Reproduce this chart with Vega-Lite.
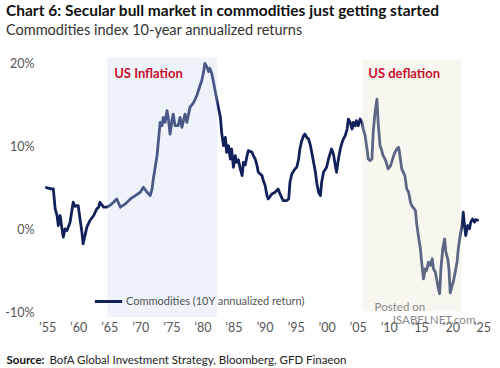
{
  "$schema": "https://vega.github.io/schema/vega-lite/v6.json",
  "width": 441,
  "height": 262,
  "autosize": "none",
  "padding": {"left": 44, "top": 55, "right": 15, "bottom": 51},
  "background": "white",
  "config": {"view": {"stroke": null}, "font": "Lato"},
  "title": {
    "text": "Chart 6: Secular bull market in commodities just getting started",
    "subtitle": "Commodities index 10-year annualized returns",
    "anchor": "start",
    "frame": "group",
    "dx": -38,
    "offset": 18,
    "font": "Lato",
    "fontSize": 15.5,
    "fontWeight": "bold",
    "color": "#111111",
    "subtitleFont": "Lato",
    "subtitleFontSize": 14.5,
    "subtitleColor": "#333333",
    "subtitlePadding": 4
  },
  "datasets": {
    "series": [
      {"year": 1954.7, "ret": 5.1}, {"year": 1955.2, "ret": 5.0}, {"year": 1955.6, "ret": 4.9}, {"year": 1956.0, "ret": 4.9},
      {"year": 1956.3, "ret": 2.5}, {"year": 1956.6, "ret": 1.7}, {"year": 1956.8, "ret": 0.5}, {"year": 1957.1, "ret": 1.7},
      {"year": 1957.4, "ret": 0.1}, {"year": 1957.6, "ret": -0.9}, {"year": 1957.9, "ret": 0.1}, {"year": 1958.2, "ret": -0.1},
      {"year": 1958.7, "ret": 0.9}, {"year": 1959.2, "ret": 3.3}, {"year": 1959.5, "ret": 2.8}, {"year": 1959.8, "ret": 2.9},
      {"year": 1960.0, "ret": 2.9}, {"year": 1960.3, "ret": 1.3}, {"year": 1960.6, "ret": -0.3}, {"year": 1960.8, "ret": -1.7},
      {"year": 1961.1, "ret": -0.7}, {"year": 1961.4, "ret": 0.3}, {"year": 1961.9, "ret": 1.1}, {"year": 1962.5, "ret": 1.7},
      {"year": 1963.0, "ret": 2.5}, {"year": 1963.3, "ret": 2.7}, {"year": 1963.5, "ret": 3.3}, {"year": 1964.1, "ret": 2.7},
      {"year": 1964.6, "ret": 2.7}, {"year": 1965.1, "ret": 2.9}, {"year": 1965.7, "ret": 3.3}, {"year": 1966.2, "ret": 3.7},
      {"year": 1966.8, "ret": 2.7}, {"year": 1967.6, "ret": 3.1}, {"year": 1968.4, "ret": 3.7}, {"year": 1969.2, "ret": 4.1},
      {"year": 1970.0, "ret": 4.5}, {"year": 1970.5, "ret": 5.1}, {"year": 1971.1, "ret": 4.5}, {"year": 1971.6, "ret": 4.1},
      {"year": 1971.9, "ret": 4.9}, {"year": 1972.1, "ret": 6.1}, {"year": 1972.7, "ret": 8.9}, {"year": 1973.2, "ret": 12.9},
      {"year": 1973.5, "ret": 12.5}, {"year": 1973.7, "ret": 13.5}, {"year": 1974.0, "ret": 12.9}, {"year": 1974.3, "ret": 14.3},
      {"year": 1974.5, "ret": 13.5}, {"year": 1974.8, "ret": 11.5}, {"year": 1975.1, "ret": 13.1}, {"year": 1975.3, "ret": 13.9},
      {"year": 1975.6, "ret": 12.5}, {"year": 1976.1, "ret": 12.5}, {"year": 1976.4, "ret": 13.5}, {"year": 1976.7, "ret": 12.3},
      {"year": 1977.2, "ret": 13.9}, {"year": 1977.5, "ret": 12.9}, {"year": 1978.0, "ret": 14.7}, {"year": 1978.6, "ret": 15.3},
      {"year": 1979.1, "ret": 16.1}, {"year": 1979.6, "ret": 17.3}, {"year": 1979.9, "ret": 17.9}, {"year": 1980.2, "ret": 19.0},
      {"year": 1980.4, "ret": 20.0}, {"year": 1980.7, "ret": 19.6}, {"year": 1981.0, "ret": 19.0}, {"year": 1981.2, "ret": 19.4},
      {"year": 1981.5, "ret": 18.8}, {"year": 1981.8, "ret": 17.7}, {"year": 1982.3, "ret": 15.7}, {"year": 1982.9, "ret": 13.5},
      {"year": 1983.1, "ret": 11.7}, {"year": 1983.4, "ret": 10.1}, {"year": 1983.7, "ret": 11.1}, {"year": 1983.9, "ret": 9.3},
      {"year": 1984.2, "ret": 10.1}, {"year": 1984.5, "ret": 8.5}, {"year": 1984.7, "ret": 9.7}, {"year": 1985.0, "ret": 7.5},
      {"year": 1985.3, "ret": 8.9}, {"year": 1985.5, "ret": 8.1}, {"year": 1985.8, "ret": 8.4}, {"year": 1986.1, "ret": 7.3},
      {"year": 1986.4, "ret": 6.5}, {"year": 1986.6, "ret": 8.1}, {"year": 1986.9, "ret": 7.8}, {"year": 1987.2, "ret": 8.9},
      {"year": 1987.4, "ret": 9.5}, {"year": 1988.0, "ret": 9.3}, {"year": 1988.2, "ret": 8.9}, {"year": 1988.5, "ret": 8.5},
      {"year": 1988.8, "ret": 7.7}, {"year": 1989.0, "ret": 6.9}, {"year": 1989.6, "ret": 6.5}, {"year": 1989.8, "ret": 5.9},
      {"year": 1990.1, "ret": 5.3}, {"year": 1990.4, "ret": 4.1}, {"year": 1990.6, "ret": 3.7}, {"year": 1991.2, "ret": 4.3},
      {"year": 1991.7, "ret": 4.5}, {"year": 1992.2, "ret": 4.9}, {"year": 1992.5, "ret": 4.3}, {"year": 1993.0, "ret": 3.5},
      {"year": 1993.6, "ret": 3.5}, {"year": 1993.9, "ret": 3.7}, {"year": 1994.1, "ret": 5.7}, {"year": 1994.4, "ret": 6.7},
      {"year": 1994.9, "ret": 7.3}, {"year": 1995.2, "ret": 7.5}, {"year": 1995.5, "ret": 8.5}, {"year": 1995.7, "ret": 9.7},
      {"year": 1996.0, "ret": 10.7}, {"year": 1996.3, "ret": 11.3}, {"year": 1996.5, "ret": 11.5}, {"year": 1996.8, "ret": 11.1},
      {"year": 1997.1, "ret": 10.9}, {"year": 1997.4, "ret": 10.1}, {"year": 1997.6, "ret": 9.3}, {"year": 1997.9, "ret": 8.1},
      {"year": 1998.2, "ret": 6.9}, {"year": 1998.4, "ret": 5.7}, {"year": 1998.7, "ret": 4.5}, {"year": 1999.0, "ret": 4.1},
      {"year": 1999.2, "ret": 5.7}, {"year": 1999.5, "ret": 6.9}, {"year": 2000.0, "ret": 7.5}, {"year": 2000.3, "ret": 8.5},
      {"year": 2000.8, "ret": 9.7}, {"year": 2001.1, "ret": 9.1}, {"year": 2001.4, "ret": 7.7}, {"year": 2001.6, "ret": 6.9},
      {"year": 2001.9, "ret": 8.5}, {"year": 2002.2, "ret": 9.7}, {"year": 2002.5, "ret": 10.5}, {"year": 2002.7, "ret": 10.9},
      {"year": 2003.0, "ret": 11.3}, {"year": 2003.3, "ret": 12.1}, {"year": 2003.5, "ret": 13.3}, {"year": 2003.8, "ret": 12.9},
      {"year": 2004.1, "ret": 12.1}, {"year": 2004.3, "ret": 12.9}, {"year": 2004.6, "ret": 12.5}, {"year": 2004.8, "ret": 13.1},
      {"year": 2005.1, "ret": 12.5}, {"year": 2005.4, "ret": 13.3}, {"year": 2005.7, "ret": 12.9}, {"year": 2005.9, "ret": 12.1},
      {"year": 2006.2, "ret": 11.3}, {"year": 2006.5, "ret": 9.7}, {"year": 2006.7, "ret": 8.5}, {"year": 2007.0, "ret": 8.3},
      {"year": 2007.3, "ret": 8.5}, {"year": 2007.5, "ret": 11.7}, {"year": 2007.8, "ret": 14.1}, {"year": 2008.1, "ret": 15.7},
      {"year": 2008.3, "ret": 12.9}, {"year": 2008.6, "ret": 10.1}, {"year": 2008.8, "ret": 9.7}, {"year": 2009.1, "ret": 8.9},
      {"year": 2009.4, "ret": 8.5}, {"year": 2009.6, "ret": 8.1}, {"year": 2009.9, "ret": 7.3}, {"year": 2010.3, "ret": 7.7},
      {"year": 2010.8, "ret": 8.9}, {"year": 2011.0, "ret": 9.3}, {"year": 2011.3, "ret": 9.7}, {"year": 2011.6, "ret": 9.9},
      {"year": 2011.8, "ret": 8.9}, {"year": 2012.1, "ret": 7.3}, {"year": 2012.6, "ret": 6.5}, {"year": 2012.9, "ret": 4.9},
      {"year": 2013.2, "ret": 4.5}, {"year": 2013.5, "ret": 3.3}, {"year": 2013.7, "ret": 2.9}, {"year": 2014.1, "ret": 2.5},
      {"year": 2014.3, "ret": 2.3}, {"year": 2014.5, "ret": 0.7}, {"year": 2014.8, "ret": -0.9}, {"year": 2015.1, "ret": -2.3},
      {"year": 2015.3, "ret": -3.9}, {"year": 2015.6, "ret": -5.9}, {"year": 2015.9, "ret": -4.7}, {"year": 2016.1, "ret": -4.9},
      {"year": 2016.4, "ret": -3.9}, {"year": 2016.7, "ret": -4.3}, {"year": 2017.0, "ret": -3.5}, {"year": 2017.2, "ret": -4.7},
      {"year": 2017.5, "ret": -5.1}, {"year": 2017.8, "ret": -6.3}, {"year": 2018.0, "ret": -7.1}, {"year": 2018.2, "ret": -7.7},
      {"year": 2018.4, "ret": -4.7}, {"year": 2018.7, "ret": -2.3}, {"year": 2019.0, "ret": -1.1}, {"year": 2019.2, "ret": -2.7},
      {"year": 2019.5, "ret": -3.5}, {"year": 2019.7, "ret": -4.7}, {"year": 2019.9, "ret": -7.6}, {"year": 2020.2, "ret": -6.7},
      {"year": 2020.4, "ret": -6.3}, {"year": 2020.7, "ret": -5.1}, {"year": 2021.0, "ret": -3.9}, {"year": 2021.2, "ret": -2.3},
      {"year": 2021.5, "ret": -0.7}, {"year": 2021.8, "ret": 0.5}, {"year": 2022.0, "ret": 2.1}, {"year": 2022.2, "ret": 0.5},
      {"year": 2022.4, "ret": -0.7}, {"year": 2022.7, "ret": 0.5}, {"year": 2023.0, "ret": 0.1}, {"year": 2023.2, "ret": 0.9},
      {"year": 2023.5, "ret": 1.3}, {"year": 2023.8, "ret": 0.9}, {"year": 2024.0, "ret": 1.2}, {"year": 2024.5, "ret": 1.1}
    ]
  },
  "resolve": {"axis": {"x": "independent"}},
  "layer": [
    {
      "data": {"name": "series"},
      "mark": {"type": "line", "strokeWidth": 2.8, "strokeJoin": "round", "clip": false},
      "encoding": {
        "x": {
          "field": "year", "type": "quantitative",
          "scale": {"domain": [1954.5, 2025.5], "nice": false, "zero": false},
          "axis": {
            "orient": "bottom",
            "values": [1955, 1960, 1965, 1970, 1975, 1980, 1985, 1990, 1995, 2000, 2005, 2010, 2015, 2020, 2025],
            "labelExpr": "'\u2019' + substring(toString(datum.value), 2, 4)",
            "grid": false, "ticks": false, "domain": false,
            "labelFlush": false, "labelPadding": 4,
            "labelFontSize": 12.5, "labelColor": "#555555", "labelFont": "Lato",
            "title": "Source:",
            "titleFont": "Lato", "titleFontSize": 11.5, "titleFontWeight": "bold", "titleColor": "#111111",
            "titleX": -38, "titleY": 46, "titleAlign": "left", "titleAnchor": null, "titleBaseline": "alphabetic"
          }
        },
        "y": {
          "field": "ret", "type": "quantitative",
          "scale": {"domain": [-10.5, 21], "nice": false, "zero": false},
          "axis": {
            "values": [-10, 0, 10, 20],
            "labelExpr": "datum.value + '%'",
            "grid": false, "ticks": false, "domain": false,
            "labelPadding": 10, "labelFontSize": 12.5, "labelColor": "#555555", "labelFont": "Lato",
            "title": null
          }
        },
        "color": {
          "datum": "Commodities (10Y annualized return)",
          "scale": {"range": ["#13215a"]},
          "legend": {
            "orient": "none", "legendX": 49, "legendY": 231, "title": null,
            "symbolType": "stroke", "symbolSize": 740, "symbolStrokeWidth": 3,
            "labelFontSize": 11, "labelColor": "#555555", "labelFont": "Lato", "labelOffset": 2, "labelLimit": 300
          }
        }
      }
    },
    {
      "mark": {"type": "rule", "color": "#777777", "strokeWidth": 1.2},
      "encoding": {"y": {"datum": 0}}
    },
    {
      "data": {"values": [{"start": 1964.7, "end": 1982.4, "top": 20.7, "bottom": -10.5}]},
      "mark": {"type": "rect", "color": "#c6d7ee", "opacity": 0.3},
      "encoding": {
        "x": {"field": "start", "type": "quantitative", "axis": null},
        "x2": {"field": "end"},
        "y": {"field": "top", "type": "quantitative"},
        "y2": {"field": "bottom"}
      }
    },
    {
      "data": {"values": [{"start": 2005.7, "end": 2021.7, "top": 20.4, "bottom": -9.8}]},
      "mark": {"type": "rect", "color": "#e8e8d4", "opacity": 0.35},
      "encoding": {
        "x": {"field": "start", "type": "quantitative", "axis": null},
        "x2": {"field": "end"},
        "y": {"field": "top", "type": "quantitative"},
        "y2": {"field": "bottom"}
      }
    },
    {
      "data": {"values": [{"label": "US Inflation", "year": 1965.8, "ret": 18.7}, {"label": "US deflation", "year": 2006.7, "ret": 18.7}]},
      "mark": {"type": "text", "align": "left", "baseline": "middle", "color": "#c8102e", "fontWeight": "bold", "fontSize": 13, "font": "Lato"},
      "encoding": {
        "x": {
          "field": "year", "type": "quantitative",
          "axis": {
            "orient": "bottom", "labels": false, "ticks": false, "domain": false, "grid": false,
            "title": "BofA Global Investment Strategy, Bloomberg, GFD Finaeon",
            "titleFont": "Lato", "titleFontSize": 11.5, "titleFontWeight": "normal", "titleColor": "#222222",
            "titleX": 5, "titleY": 46, "titleAlign": "left", "titleAnchor": null, "titleBaseline": "alphabetic"
          }
        },
        "y": {"field": "ret", "type": "quantitative"},
        "text": {"field": "label"}
      }
    },
    {
      "data": {"values": [{"label": "Posted on", "year": 2011.8, "ret": -9.4}, {"label": "ISABELNET.com", "year": 2017.3, "ret": -11.0}]},
      "mark": {"type": "text", "align": "center", "baseline": "middle", "color": "#8a8a8a", "fontSize": 11.5, "clip": false},
      "encoding": {
        "x": {"field": "year", "type": "quantitative", "axis": null},
        "y": {"field": "ret", "type": "quantitative"},
        "text": {"field": "label"}
      }
    }
  ]
}
